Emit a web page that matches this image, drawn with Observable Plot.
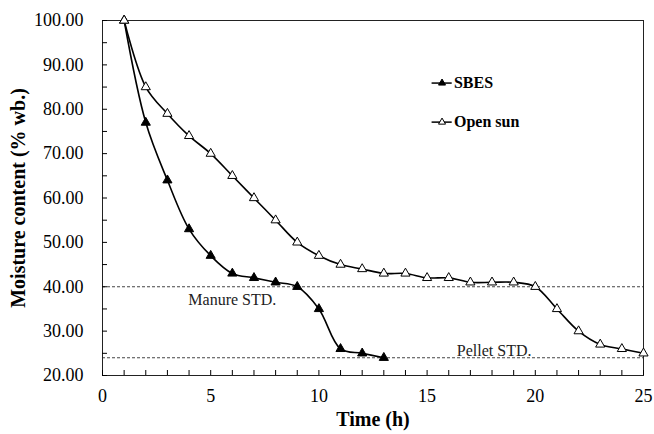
<!DOCTYPE html>
<html><head><meta charset="utf-8">
<script src="https://cdn.jsdelivr.net/npm/d3@7"></script>
<script src="https://cdn.jsdelivr.net/npm/@observablehq/plot@0.6"></script>
<style>
body{margin:0;background:#fff}
#chart{width:654px;height:434px}
svg, svg text{font-family:"Liberation Serif", "Times New Roman", serif !important}
g[aria-label="y-axis label"] text, g[aria-label="x-axis label"] text{font-weight:bold;font-size:20px}
</style>
</head><body><div id="chart"></div>
<script>
const sbesHours = [1,2,3,4,5,6,7,8,9,10,11,12,13];
const sbesMoisture = [100,77,64,53,47,43,42,41,40,35,26,25,24];
const sunHours = [1,2,3,4,5,6,7,8,9,10,11,12,13,14,15,16,17,18,19,20,21,22,23,24,25];
const sunMoisture = [100,85,79,74,70,65,60,55,50,47,45,44,43,43,42,42,41,41,41,40,35,30,27,26,25];
const stdNames = ["Manure STD.","Pellet STD."];
const stdValues = [40,24];
const stdLabelX = [6.0,18.1];
const stdLabelY = [37.0,25.6];
const legendNames = ["SBES","Open sun"];
const legendY = [85.9,77.1];
const legendFill = ["black","white"];
const xMajor = [0,5,10,15,20,25];
const yMajor = [20,30,40,50,60,70,80,90,100];

const sbes = sbesHours.map((h,i)=>({h, m: sbesMoisture[i]}));
const sun = sunHours.map((h,i)=>({h, m: sunMoisture[i]}));
const stds = stdNames.map((n,i)=>({n, v: stdValues[i], lx: stdLabelX[i], ly: stdLabelY[i]}));
const legend = legendNames.map((n,i)=>({n, y: legendY[i], fill: legendFill[i]}));

const chart = Plot.plot({
  width: 654, height: 434,
  marginLeft: 102, marginRight: 11, marginTop: 20, marginBottom: 59,
  style: {fontSize: "18px", color: "black", background: "white"},
  x: {domain: [0,25]},
  y: {domain: [20,100]},
  marks: [
    Plot.ruleY(stds, {y: "v", stroke: "#444", strokeWidth: 1, strokeDasharray: "3,2"}),
    Plot.text(stds, {x: "lx", y: "ly", text: "n", fontSize: 16, fill: "#222"}),
    Plot.frame({stroke: "#222"}),
    Plot.axisY({ticks: d3.range(20,101,5), tickSize: -5, tickFormat: () => "", label: null}),
    Plot.axisY({ticks: yMajor, tickSize: 0, tickPadding: 19, tickFormat: d => d.toFixed(2), label: "Moisture content (% wb.)", labelAnchor: "center", labelOffset: 92, labelArrow: false}),
    Plot.axisX({ticks: d3.range(0,26,1), tickSize: -5, tickFormat: () => "", label: null}),
    Plot.axisX({ticks: xMajor, tickSize: 0, tickPadding: 14, label: "Time (h)", labelAnchor: "center", labelOffset: 50, labelArrow: false}),
    Plot.line(sbes, {x: "h", y: "m", curve: "catmull-rom", stroke: "black", strokeWidth: 1.6}),
    Plot.line(sun, {x: "h", y: "m", curve: "catmull-rom", stroke: "black", strokeWidth: 1.6}),
    Plot.dot(sbes, {x: "h", y: "m", symbol: "triangle", r: 3.4, fill: "black", stroke: "black", strokeWidth: 1}),
    Plot.dot(sun, {x: "h", y: "m", symbol: "triangle", r: 3.4, fill: "white", stroke: "black", strokeWidth: 1}),
    Plot.ruleY(legend, {y: "y", x1: 15.23, x2: 16.16, stroke: "black", strokeWidth: 1.5}),
    Plot.dot(legend, {x: 15.69, y: "y", symbol: "triangle", r: 2.6, fill: "fill", stroke: "black", strokeWidth: 1}),
    Plot.text(legend, {x: 16.24, y: "y", text: "n", textAnchor: "start", fontWeight: "bold", fontSize: 16})
  ]
});
document.getElementById("chart").append(chart);
</script>
</body></html>
